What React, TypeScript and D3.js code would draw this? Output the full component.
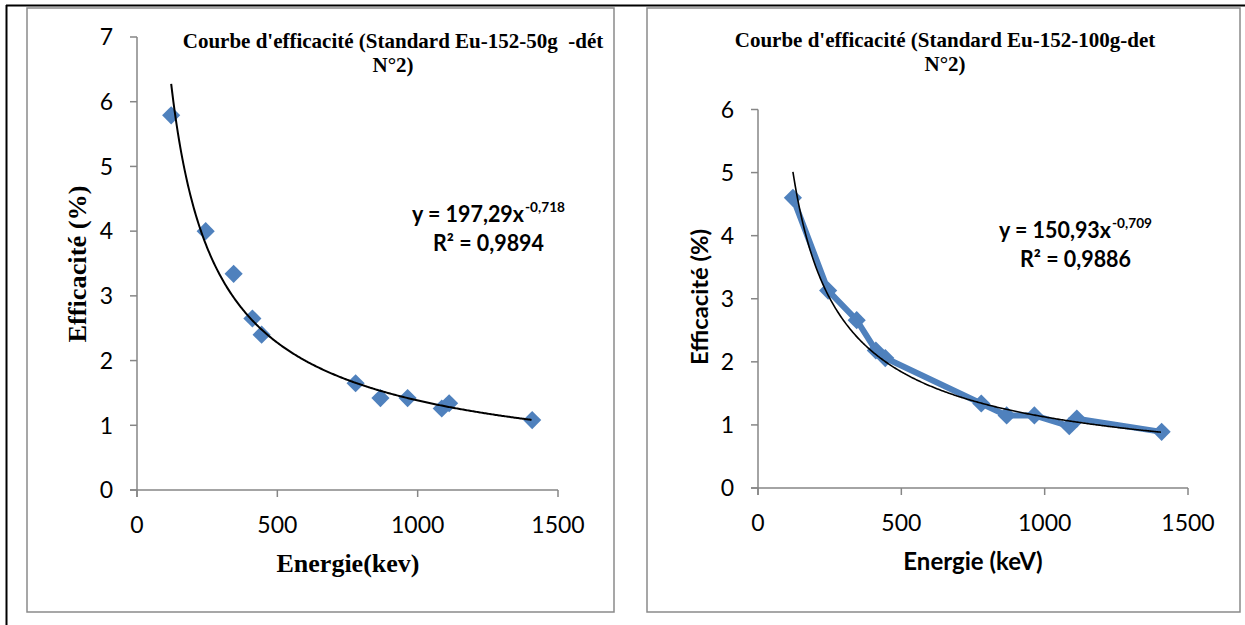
import React from 'react';
import * as d3 from 'd3';

// Eu-152 gamma lines (keV) and measured efficiencies (%)
const energies = [121.8, 244.7, 344.3, 411.1, 444.0, 778.9, 867.4, 964.1, 1085.8, 1112.1, 1408.0];
const eff50g = [5.79, 4.0, 3.34, 2.65, 2.4, 1.65, 1.42, 1.42, 1.26, 1.34, 1.08];
const eff100g = [4.6, 3.13, 2.66, 2.18, 2.06, 1.34, 1.15, 1.15, 0.98, 1.1, 0.89];
const xTicks = [0, 500, 1000, 1500];

// power trendlines shown on the charts
const fit50g = { a: 197.29, b: -0.718, coef: '197,29', exp: '-0,718', r2: '0,9894' };
const fit100g = { a: 150.93, b: -0.709, coef: '150,93', exp: '-0,709', r2: '0,9886' };

const BLUE = '#4F81BD';
const AXIS = '#868686';
const SANS = 'Lato, "Open Sans", sans-serif';
const SERIF = '"Liberation Serif", "Times New Roman", serif';

type PanelProps = {
  values: number[];
  fit: typeof fit50g;
  box: [number, number, number, number];
  plot: { x0: number; x1: number; yTop: number; y0: number; yMax: number };
  title: string[];
  titleX: number;
  titleY: number;
  yLabel: { text: string; x: number; y: number; font: string; size: number; len: number };
  xLabel: { text: string; x: number; y: number; font: string; size: number };
  eq: { x: number; y: number; rx: number };
  connect: boolean;
  curveWidth: number;
};

const Panel = ({ values, fit, box, plot, title, titleX, titleY, yLabel, xLabel, eq, connect, curveWidth }: PanelProps) => {
  const x = d3.scaleLinear().domain([0, 1500]).range([plot.x0, plot.x1]);
  const y = d3.scaleLinear().domain([0, plot.yMax]).range([plot.y0, plot.yTop]);
  const yTicks = d3.range(0, plot.yMax + 1);
  const pts = energies.map((e, i) => [e, values[i]] as [number, number]);

  const line = d3.line<[number, number]>().x(d => x(d[0])).y(d => y(d[1]));
  const trend = d3
    .range(energies[0], energies[energies.length - 1] + 1, 4)
    .map(e => [e, fit.a * Math.pow(e, fit.b)] as [number, number]);
  const diamond = d3.symbol(d3.symbolSquare, 165)();

  return (
    <g>
      <rect x={box[0]} y={box[1]} width={box[2] - box[0]} height={box[3] - box[1]} fill="#fff" stroke="#8a8a8a" strokeWidth={1.5} />
      {title.map((t, i) => (
        <text key={i} x={titleX} y={titleY + i * 24} textAnchor="middle" fontFamily={SERIF} fontWeight="bold" fontSize={21} style={{ whiteSpace: 'pre' }}>
          {t}
        </text>
      ))}

      {/* axes */}
      <line x1={plot.x0} x2={plot.x0} y1={plot.yTop} y2={plot.y0 + 7} stroke={AXIS} strokeWidth={1.5} />
      <line x1={plot.x0 - 7} x2={plot.x1} y1={plot.y0} y2={plot.y0} stroke={AXIS} strokeWidth={1.5} />
      {yTicks.map(t => (
        <g key={'y' + t}>
          <line x1={plot.x0 - 7} x2={plot.x0} y1={y(t)} y2={y(t)} stroke={AXIS} strokeWidth={1.5} />
          <text x={plot.x0 - 24} y={y(t)} dy="0.36em" textAnchor="end" fontFamily={SANS} fontSize={23}>{t}</text>
        </g>
      ))}
      {xTicks.map(t => (
        <g key={'x' + t}>
          <line x1={x(t)} x2={x(t)} y1={plot.y0} y2={plot.y0 + 7} stroke={AXIS} strokeWidth={1.5} />
          <text x={x(t)} y={plot.y0 + 43} textAnchor="middle" fontFamily={SANS} fontSize={23}>{t}</text>
        </g>
      ))}

      <text
        transform={`translate(${yLabel.x},${yLabel.y}) rotate(-90)`}
        textAnchor="middle"
        dominantBaseline="central"
        fontFamily={yLabel.font}
        fontWeight="bold"
        fontSize={yLabel.size}
        textLength={yLabel.len}
        lengthAdjust="spacingAndGlyphs"
      >
        {yLabel.text}
      </text>
      <text x={xLabel.x} y={xLabel.y} textAnchor="middle" fontFamily={xLabel.font} fontWeight="bold" fontSize={xLabel.size}>
        {xLabel.text}
      </text>

      {/* data */}
      {connect && <path d={line(pts) || ''} fill="none" stroke={BLUE} strokeWidth={6} strokeLinejoin="round" />}
      {pts.map((p, i) => (
        <path key={i} d={diamond || ''} transform={`translate(${x(p[0])},${y(p[1])}) rotate(45)`} fill={BLUE} />
      ))}
      <path d={line(trend) || ''} fill="none" stroke="#000" strokeWidth={curveWidth} />

      {/* equation */}
      <text x={eq.x} y={eq.y} fontFamily={SANS} fontWeight="bold" fontSize={22} textLength={112} lengthAdjust="spacingAndGlyphs">
        {`y = ${fit.coef}x`}
      </text>
      <text x={eq.x + 113} y={eq.y - 10} fontFamily={SANS} fontWeight="bold" fontSize={14} textLength={40} lengthAdjust="spacingAndGlyphs">
        {fit.exp}
      </text>
      <text x={eq.rx} y={eq.y + 29} fontFamily={SANS} fontWeight="bold" fontSize={22} textLength={111} lengthAdjust="spacingAndGlyphs">
        {`R² = ${fit.r2}`}
      </text>
    </g>
  );
};

export default function App() {
  return (
    <svg width={1245} height={625} style={{ position: 'absolute', left: 0, top: 0, background: '#fff' }}>
      <rect x={0} y={0} width={1245} height={625} fill="#fff" />
      <line x1={6} x2={1245} y1={5.5} y2={5.5} stroke="#000" strokeWidth={2} />
      <line x1={6.5} x2={6.5} y1={5} y2={625} stroke="#000" strokeWidth={2} />
      <Panel
        values={eff50g}
        fit={fit50g}
        box={[27, 8, 614, 612]}
        plot={{ x0: 137, x1: 558, yTop: 37, y0: 490, yMax: 7 }}
        title={["Courbe d'efficacité (Standard Eu-152-50g  -dét", 'N°2)']}
        titleX={393}
        titleY={48}
        yLabel={{ text: 'Efficacité (%)', x: 77, y: 264, font: SERIF, size: 26, len: 157 }}
        xLabel={{ text: 'Energie(kev)', x: 348, y: 572, font: SERIF, size: 26 }}
        eq={{ x: 412, y: 222, rx: 433 }}
        connect={false}
        curveWidth={2}
      />
      <Panel
        values={eff100g}
        fit={fit100g}
        box={[647, 8, 1240, 612]}
        plot={{ x0: 758, x1: 1188, yTop: 109.5, y0: 488, yMax: 6 }}
        title={["Courbe d'efficacité (Standard Eu-152-100g-det", 'N°2)']}
        titleX={945}
        titleY={47}
        yLabel={{ text: 'Efficacité (%)', x: 699, y: 297, font: SANS, size: 22, len: 136 }}
        xLabel={{ text: 'Energie (keV)', x: 973, y: 570, font: SANS, size: 24 }}
        eq={{ x: 999, y: 238, rx: 1020 }}
        connect={true}
        curveWidth={1.6}
      />
    </svg>
  );
}
